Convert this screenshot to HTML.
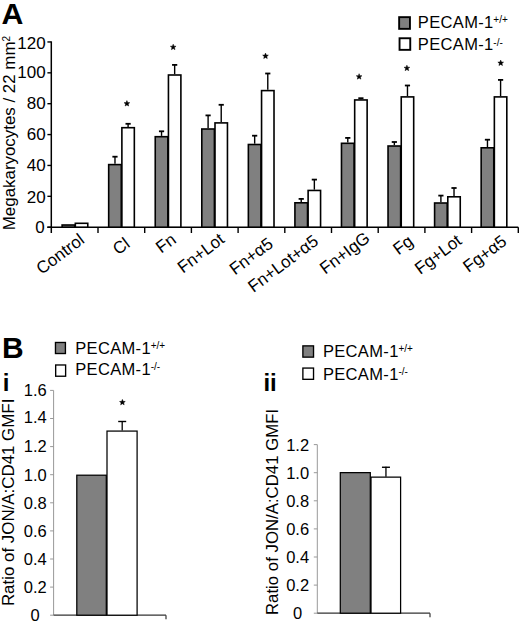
<!DOCTYPE html>
<html><head><meta charset="utf-8"><style>
html,body{margin:0;padding:0;background:#fff;}
body{width:520px;height:623px;overflow:hidden;}
svg{display:block;}
text{font-family:"Liberation Sans", sans-serif;fill:#000;}
</style></head><body>
<svg width="520" height="623" viewBox="0 0 520 623">
<text x="1.6" y="24.1" font-size="30.3" font-weight="bold">A</text>
<line x1="51.3" y1="41.36" x2="51.3" y2="233.00" stroke="#000" stroke-width="1.5"/>
<line x1="47.4" y1="227.20" x2="51.3" y2="227.20" stroke="#000" stroke-width="1.4"/>
<text x="44.8" y="233.00" font-size="17" text-anchor="end">0</text>
<line x1="47.4" y1="196.33" x2="51.3" y2="196.33" stroke="#000" stroke-width="1.4"/>
<text x="45.7" y="202.80" font-size="17" text-anchor="end">20</text>
<line x1="47.4" y1="165.45" x2="51.3" y2="165.45" stroke="#000" stroke-width="1.4"/>
<text x="45.7" y="170.50" font-size="17" text-anchor="end">40</text>
<line x1="47.4" y1="134.58" x2="51.3" y2="134.58" stroke="#000" stroke-width="1.4"/>
<text x="45.7" y="140.40" font-size="17" text-anchor="end">60</text>
<line x1="47.4" y1="103.70" x2="51.3" y2="103.70" stroke="#000" stroke-width="1.4"/>
<text x="45.7" y="109.30" font-size="17" text-anchor="end">80</text>
<line x1="47.4" y1="72.83" x2="51.3" y2="72.83" stroke="#000" stroke-width="1.4"/>
<text x="45.7" y="78.10" font-size="17" text-anchor="end">100</text>
<line x1="47.4" y1="41.96" x2="51.3" y2="41.96" stroke="#000" stroke-width="1.4"/>
<text x="45.7" y="48.70" font-size="17" text-anchor="end">120</text>
<line x1="47.3" y1="227.2" x2="518.30" y2="227.2" stroke="#000" stroke-width="1.5"/>
<line x1="98.00" y1="227.2" x2="98.00" y2="233.00" stroke="#000" stroke-width="1.4"/>
<line x1="144.70" y1="227.2" x2="144.70" y2="233.00" stroke="#000" stroke-width="1.4"/>
<line x1="191.40" y1="227.2" x2="191.40" y2="233.00" stroke="#000" stroke-width="1.4"/>
<line x1="238.10" y1="227.2" x2="238.10" y2="233.00" stroke="#000" stroke-width="1.4"/>
<line x1="284.80" y1="227.2" x2="284.80" y2="233.00" stroke="#000" stroke-width="1.4"/>
<line x1="331.50" y1="227.2" x2="331.50" y2="233.00" stroke="#000" stroke-width="1.4"/>
<line x1="378.20" y1="227.2" x2="378.20" y2="233.00" stroke="#000" stroke-width="1.4"/>
<line x1="424.90" y1="227.2" x2="424.90" y2="233.00" stroke="#000" stroke-width="1.4"/>
<line x1="471.60" y1="227.2" x2="471.60" y2="233.00" stroke="#000" stroke-width="1.4"/>
<line x1="518.30" y1="227.2" x2="518.30" y2="233.00" stroke="#000" stroke-width="1.4"/>
<rect x="62.12" y="225.00" width="12.60" height="2.20" fill="#808080" stroke="#000" stroke-width="1.6"/>
<rect x="75.32" y="223.30" width="12.45" height="3.90" fill="#fff" stroke="#000" stroke-width="1.6"/>
<text x="85.50" y="242.10" font-size="17" text-anchor="end" transform="rotate(-37 85.50 242.10)">Control</text>
<line x1="114.98" y1="163.80" x2="114.98" y2="156.70" stroke="#000" stroke-width="1.4"/>
<line x1="112.38" y1="156.70" x2="117.58" y2="156.70" stroke="#000" stroke-width="1.8"/>
<rect x="108.68" y="164.60" width="12.60" height="62.60" fill="#808080" stroke="#000" stroke-width="1.6"/>
<line x1="128.10" y1="126.90" x2="128.10" y2="123.80" stroke="#000" stroke-width="1.4"/>
<line x1="125.50" y1="123.80" x2="130.70" y2="123.80" stroke="#000" stroke-width="1.8"/>
<rect x="121.88" y="127.70" width="12.45" height="99.50" fill="#fff" stroke="#000" stroke-width="1.6"/>
<polygon points="126.90,100.60 127.66,102.55 129.75,102.67 128.14,104.00 128.66,106.03 126.90,104.90 125.14,106.03 125.66,104.00 124.05,102.67 126.14,102.55" fill="#000" stroke="#000" stroke-width="0.5" stroke-linejoin="round"/>
<text x="131.00" y="245.90" font-size="17" text-anchor="end" transform="rotate(-37 131.00 245.90)">Cl</text>
<line x1="161.54" y1="135.90" x2="161.54" y2="131.30" stroke="#000" stroke-width="1.4"/>
<line x1="158.94" y1="131.30" x2="164.14" y2="131.30" stroke="#000" stroke-width="1.8"/>
<rect x="155.24" y="136.70" width="12.60" height="90.50" fill="#808080" stroke="#000" stroke-width="1.6"/>
<line x1="174.66" y1="74.20" x2="174.66" y2="64.90" stroke="#000" stroke-width="1.4"/>
<line x1="172.06" y1="64.90" x2="177.26" y2="64.90" stroke="#000" stroke-width="1.8"/>
<rect x="168.44" y="75.00" width="12.45" height="152.20" fill="#fff" stroke="#000" stroke-width="1.6"/>
<polygon points="173.20,44.20 173.96,46.15 176.05,46.27 174.44,47.60 174.96,49.63 173.20,48.50 171.44,49.63 171.96,47.60 170.35,46.27 172.44,46.15" fill="#000" stroke="#000" stroke-width="0.5" stroke-linejoin="round"/>
<text x="177.20" y="241.85" font-size="17" text-anchor="end" transform="rotate(-37 177.20 241.85)">Fn</text>
<line x1="208.10" y1="128.20" x2="208.10" y2="115.40" stroke="#000" stroke-width="1.4"/>
<line x1="205.50" y1="115.40" x2="210.70" y2="115.40" stroke="#000" stroke-width="1.8"/>
<rect x="201.80" y="129.00" width="12.60" height="98.20" fill="#808080" stroke="#000" stroke-width="1.6"/>
<line x1="221.22" y1="122.10" x2="221.22" y2="104.80" stroke="#000" stroke-width="1.4"/>
<line x1="218.62" y1="104.80" x2="223.82" y2="104.80" stroke="#000" stroke-width="1.8"/>
<rect x="215.00" y="122.90" width="12.45" height="104.30" fill="#fff" stroke="#000" stroke-width="1.6"/>
<text x="225.60" y="241.50" font-size="17" text-anchor="end" transform="rotate(-37 225.60 241.50)">Fn+Lot</text>
<line x1="254.66" y1="143.70" x2="254.66" y2="135.70" stroke="#000" stroke-width="1.4"/>
<line x1="252.06" y1="135.70" x2="257.26" y2="135.70" stroke="#000" stroke-width="1.8"/>
<rect x="248.36" y="144.50" width="12.60" height="82.70" fill="#808080" stroke="#000" stroke-width="1.6"/>
<line x1="267.78" y1="89.80" x2="267.78" y2="73.50" stroke="#000" stroke-width="1.4"/>
<line x1="265.18" y1="73.50" x2="270.38" y2="73.50" stroke="#000" stroke-width="1.8"/>
<rect x="261.56" y="90.60" width="12.45" height="136.60" fill="#fff" stroke="#000" stroke-width="1.6"/>
<polygon points="265.50,53.10 266.26,55.05 268.35,55.17 266.74,56.50 267.26,58.53 265.50,57.40 263.74,58.53 264.26,56.50 262.65,55.17 264.74,55.05" fill="#000" stroke="#000" stroke-width="0.5" stroke-linejoin="round"/>
<text x="274.20" y="246.00" font-size="17" text-anchor="end" transform="rotate(-37 274.20 246.00)">Fn+&#945;5</text>
<line x1="301.22" y1="202.00" x2="301.22" y2="198.90" stroke="#000" stroke-width="1.4"/>
<line x1="298.62" y1="198.90" x2="303.82" y2="198.90" stroke="#000" stroke-width="1.8"/>
<rect x="294.92" y="202.80" width="12.60" height="24.40" fill="#808080" stroke="#000" stroke-width="1.6"/>
<line x1="314.35" y1="189.65" x2="314.35" y2="179.60" stroke="#000" stroke-width="1.4"/>
<line x1="311.75" y1="179.60" x2="316.95" y2="179.60" stroke="#000" stroke-width="1.8"/>
<rect x="308.12" y="190.45" width="12.45" height="36.75" fill="#fff" stroke="#000" stroke-width="1.6"/>
<text x="319.50" y="243.30" font-size="17" text-anchor="end" transform="rotate(-37 319.50 243.30)">Fn+Lot+&#945;5</text>
<line x1="347.78" y1="142.50" x2="347.78" y2="137.90" stroke="#000" stroke-width="1.4"/>
<line x1="345.18" y1="137.90" x2="350.38" y2="137.90" stroke="#000" stroke-width="1.8"/>
<rect x="341.48" y="143.30" width="12.60" height="83.90" fill="#808080" stroke="#000" stroke-width="1.6"/>
<line x1="360.90" y1="99.15" x2="360.90" y2="98.20" stroke="#000" stroke-width="1.4"/>
<line x1="358.30" y1="98.20" x2="363.50" y2="98.20" stroke="#000" stroke-width="1.8"/>
<rect x="354.68" y="99.95" width="12.45" height="127.25" fill="#fff" stroke="#000" stroke-width="1.6"/>
<polygon points="359.10,73.70 359.86,75.65 361.95,75.77 360.34,77.10 360.86,79.13 359.10,78.00 357.34,79.13 357.86,77.10 356.25,75.77 358.34,75.65" fill="#000" stroke="#000" stroke-width="0.5" stroke-linejoin="round"/>
<text x="371.00" y="240.40" font-size="17" text-anchor="end" transform="rotate(-37 371.00 240.40)">Fn+IgG</text>
<line x1="394.34" y1="145.20" x2="394.34" y2="142.00" stroke="#000" stroke-width="1.4"/>
<line x1="391.74" y1="142.00" x2="396.94" y2="142.00" stroke="#000" stroke-width="1.8"/>
<rect x="388.04" y="146.00" width="12.60" height="81.20" fill="#808080" stroke="#000" stroke-width="1.6"/>
<line x1="407.47" y1="96.10" x2="407.47" y2="85.50" stroke="#000" stroke-width="1.4"/>
<line x1="404.87" y1="85.50" x2="410.07" y2="85.50" stroke="#000" stroke-width="1.8"/>
<rect x="401.24" y="96.90" width="12.45" height="130.30" fill="#fff" stroke="#000" stroke-width="1.6"/>
<polygon points="406.90,65.20 407.66,67.15 409.75,67.27 408.14,68.60 408.66,70.63 406.90,69.50 405.14,70.63 405.66,68.60 404.05,67.27 406.14,67.15" fill="#000" stroke="#000" stroke-width="0.5" stroke-linejoin="round"/>
<text x="414.40" y="243.50" font-size="17" text-anchor="end" transform="rotate(-37 414.40 243.50)">Fg</text>
<line x1="440.90" y1="202.20" x2="440.90" y2="195.60" stroke="#000" stroke-width="1.4"/>
<line x1="438.30" y1="195.60" x2="443.50" y2="195.60" stroke="#000" stroke-width="1.8"/>
<rect x="434.60" y="203.00" width="12.60" height="24.20" fill="#808080" stroke="#000" stroke-width="1.6"/>
<line x1="454.02" y1="196.00" x2="454.02" y2="188.00" stroke="#000" stroke-width="1.4"/>
<line x1="451.42" y1="188.00" x2="456.62" y2="188.00" stroke="#000" stroke-width="1.8"/>
<rect x="447.80" y="196.80" width="12.45" height="30.40" fill="#fff" stroke="#000" stroke-width="1.6"/>
<text x="462.90" y="242.80" font-size="17" text-anchor="end" transform="rotate(-37 462.90 242.80)">Fg+Lot</text>
<line x1="487.46" y1="147.00" x2="487.46" y2="139.70" stroke="#000" stroke-width="1.4"/>
<line x1="484.86" y1="139.70" x2="490.06" y2="139.70" stroke="#000" stroke-width="1.8"/>
<rect x="481.16" y="147.80" width="12.60" height="79.40" fill="#808080" stroke="#000" stroke-width="1.6"/>
<line x1="500.59" y1="96.10" x2="500.59" y2="79.90" stroke="#000" stroke-width="1.4"/>
<line x1="497.99" y1="79.90" x2="503.19" y2="79.90" stroke="#000" stroke-width="1.8"/>
<rect x="494.36" y="96.90" width="12.45" height="130.30" fill="#fff" stroke="#000" stroke-width="1.6"/>
<polygon points="500.70,60.10 501.46,62.05 503.55,62.17 501.94,63.50 502.46,65.53 500.70,64.40 498.94,65.53 499.46,63.50 497.85,62.17 499.94,62.05" fill="#000" stroke="#000" stroke-width="0.5" stroke-linejoin="round"/>
<text x="507.80" y="243.60" font-size="17" text-anchor="end" transform="rotate(-37 507.80 243.60)">Fg+&#945;5</text>
<rect x="399.15" y="17.15" width="10.80" height="11.70" fill="#808080" stroke="#000" stroke-width="1.9"/>
<rect x="399.55" y="38.25" width="10.70" height="11.60" fill="#fff" stroke="#000" stroke-width="1.9"/>
<text x="417.80" y="27.70" font-size="16.5" letter-spacing="0.35">PECAM-1<tspan font-size="10" letter-spacing="0" dy="-4.6" dx="-0.3">+/+</tspan></text>
<text x="417.80" y="50.30" font-size="16.5" letter-spacing="0.35">PECAM-1<tspan font-size="10" letter-spacing="0" dy="-4.6" dx="-0.3">-/-</tspan></text>
<text transform="translate(14.6 230.2) rotate(-90)" font-size="16.9">Megakaryocytes / 22 mm<tspan font-size="10" dy="-4.4">2</tspan></text>
<text x="2.1" y="358" font-size="30" font-weight="bold">B</text>
<text x="2.7" y="390.7" font-size="24" font-weight="bold">i</text>
<text x="263.4" y="390.5" font-size="24" font-weight="bold">ii</text>
<line x1="53.6" y1="390.40" x2="53.6" y2="615.2" stroke="#999" stroke-width="1"/>
<line x1="50.10" y1="615.20" x2="53.6" y2="615.20" stroke="#999" stroke-width="1"/>
<text x="35.20" y="621.20" font-size="16.5" text-anchor="middle">0</text>
<line x1="50.10" y1="587.10" x2="53.6" y2="587.10" stroke="#999" stroke-width="1"/>
<text x="35.20" y="593.10" font-size="16.5" text-anchor="middle">0.2</text>
<line x1="50.10" y1="559.00" x2="53.6" y2="559.00" stroke="#999" stroke-width="1"/>
<text x="35.20" y="565.00" font-size="16.5" text-anchor="middle">0.4</text>
<line x1="50.10" y1="530.90" x2="53.6" y2="530.90" stroke="#999" stroke-width="1"/>
<text x="35.20" y="536.90" font-size="16.5" text-anchor="middle">0.6</text>
<line x1="50.10" y1="502.80" x2="53.6" y2="502.80" stroke="#999" stroke-width="1"/>
<text x="35.20" y="508.80" font-size="16.5" text-anchor="middle">0.8</text>
<line x1="50.10" y1="474.70" x2="53.6" y2="474.70" stroke="#999" stroke-width="1"/>
<text x="35.20" y="480.70" font-size="16.5" text-anchor="middle">1.0</text>
<line x1="50.10" y1="446.60" x2="53.6" y2="446.60" stroke="#999" stroke-width="1"/>
<text x="35.20" y="451.70" font-size="16.5" text-anchor="middle">1.2</text>
<line x1="50.10" y1="418.50" x2="53.6" y2="418.50" stroke="#999" stroke-width="1"/>
<text x="35.20" y="423.30" font-size="16.5" text-anchor="middle">1.4</text>
<line x1="50.10" y1="390.40" x2="53.6" y2="390.40" stroke="#999" stroke-width="1"/>
<text x="35.20" y="396.40" font-size="16.5" text-anchor="middle">1.6</text>
<line x1="53.6" y1="615.2" x2="166" y2="615.2" stroke="#333" stroke-width="1.2"/>
<line x1="166" y1="615.2" x2="166" y2="619.2" stroke="#333" stroke-width="1.2"/>
<rect x="76.80" y="475.20" width="29.50" height="140.00" fill="#808080" stroke="#000" stroke-width="1.25"/>
<line x1="122.20" y1="430.58" x2="122.20" y2="420.89" stroke="#000" stroke-width="1.3"/>
<line x1="118.20" y1="421.49" x2="126.20" y2="421.49" stroke="#000" stroke-width="1.4"/>
<rect x="107.00" y="431.08" width="30.10" height="184.12" fill="#fff" stroke="#000" stroke-width="1.25"/>
<polygon points="122.40,399.40 123.16,401.35 125.25,401.47 123.64,402.80 124.16,404.83 122.40,403.70 120.64,404.83 121.16,402.80 119.55,401.47 121.64,401.35" fill="#000" stroke="#000" stroke-width="0.5" stroke-linejoin="round"/>
<line x1="317.3" y1="444.60" x2="317.3" y2="613.2" stroke="#999" stroke-width="1"/>
<line x1="313.80" y1="613.20" x2="317.3" y2="613.20" stroke="#999" stroke-width="1"/>
<text x="297.60" y="619.20" font-size="16.5" text-anchor="middle">0</text>
<line x1="313.80" y1="585.10" x2="317.3" y2="585.10" stroke="#999" stroke-width="1"/>
<text x="297.60" y="591.10" font-size="16.5" text-anchor="middle">0.2</text>
<line x1="313.80" y1="557.00" x2="317.3" y2="557.00" stroke="#999" stroke-width="1"/>
<text x="297.60" y="563.00" font-size="16.5" text-anchor="middle">0.4</text>
<line x1="313.80" y1="528.90" x2="317.3" y2="528.90" stroke="#999" stroke-width="1"/>
<text x="297.60" y="534.90" font-size="16.5" text-anchor="middle">0.6</text>
<line x1="313.80" y1="500.80" x2="317.3" y2="500.80" stroke="#999" stroke-width="1"/>
<text x="297.60" y="506.80" font-size="16.5" text-anchor="middle">0.8</text>
<line x1="313.80" y1="472.70" x2="317.3" y2="472.70" stroke="#999" stroke-width="1"/>
<text x="297.60" y="478.70" font-size="16.5" text-anchor="middle">1.0</text>
<line x1="313.80" y1="444.60" x2="317.3" y2="444.60" stroke="#999" stroke-width="1"/>
<text x="297.60" y="450.60" font-size="16.5" text-anchor="middle">1.2</text>
<line x1="317.3" y1="613.2" x2="430" y2="613.2" stroke="#333" stroke-width="1.2"/>
<line x1="430" y1="613.2" x2="430" y2="617.2" stroke="#333" stroke-width="1.2"/>
<rect x="340.30" y="472.64" width="30.00" height="140.56" fill="#808080" stroke="#000" stroke-width="1.25"/>
<line x1="385.95" y1="476.63" x2="385.95" y2="466.66" stroke="#000" stroke-width="1.3"/>
<line x1="381.95" y1="467.26" x2="389.95" y2="467.26" stroke="#000" stroke-width="1.4"/>
<rect x="371.00" y="477.13" width="29.60" height="136.07" fill="#fff" stroke="#000" stroke-width="1.25"/>
<rect x="55.47" y="342.48" width="9.95" height="11.05" fill="#808080" stroke="#000" stroke-width="1.35"/>
<rect x="55.67" y="364.98" width="9.95" height="11.25" fill="#fff" stroke="#000" stroke-width="1.35"/>
<text x="75.20" y="354.00" font-size="16.5" letter-spacing="0.35">PECAM-1<tspan font-size="10" letter-spacing="0" dy="-4.6" dx="-0.3">+/+</tspan></text>
<text x="75.20" y="374.80" font-size="16.5" letter-spacing="0.35">PECAM-1<tspan font-size="10" letter-spacing="0" dy="-4.6" dx="-0.3">-/-</tspan></text>
<rect x="302.88" y="345.88" width="10.65" height="11.25" fill="#808080" stroke="#000" stroke-width="1.35"/>
<rect x="302.88" y="368.07" width="10.65" height="11.25" fill="#fff" stroke="#000" stroke-width="1.35"/>
<text x="322.90" y="356.90" font-size="16.5" letter-spacing="0.35">PECAM-1<tspan font-size="10" letter-spacing="0" dy="-4.6" dx="-0.3">+/+</tspan></text>
<text x="322.90" y="379.80" font-size="16.5" letter-spacing="0.35">PECAM-1<tspan font-size="10" letter-spacing="0" dy="-4.6" dx="-0.3">-/-</tspan></text>
<text transform="translate(14.2 606.1) rotate(-90)" font-size="16.9">Ratio of JON/A:CD41 GMFI</text>
<text transform="translate(278 615) rotate(-90)" font-size="16.8">Ratio of JON/A:CD41 GMFI</text>
</svg>
</body></html>
